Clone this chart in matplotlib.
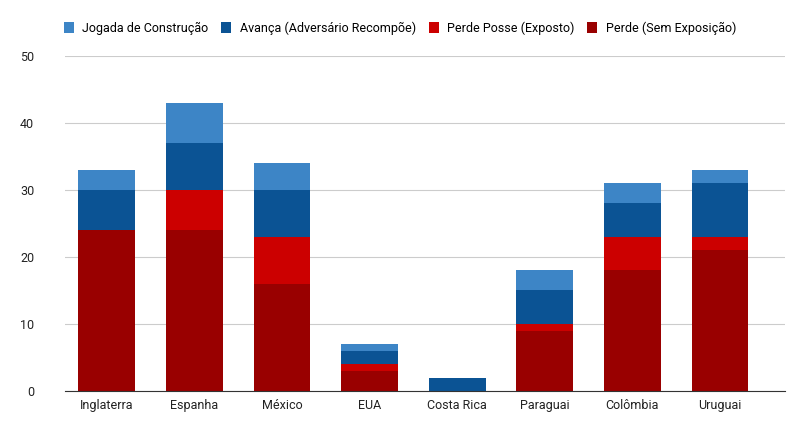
import matplotlib.pyplot as plt
import numpy as np

paises = ["Inglaterra", "Espanha", "México", "EUA", "Costa Rica", "Paraguai", "Colômbia", "Uruguai"]
perde_sem = [24, 24, 16, 3, 0, 9, 18, 21]
perde_exposto = [0, 6, 7, 1, 0, 1, 5, 2]
avanca = [6, 7, 7, 2, 2, 5, 5, 8]
construcao = [3, 6, 4, 1, 0, 3, 3, 2]

series = [
    ("Perde (Sem Exposição)", perde_sem, "#990000"),
    ("Perde Posse (Exposto)", perde_exposto, "#cc0000"),
    ("Avança (Adversário Recompõe)", avanca, "#0b5394"),
    ("Jogada de Construção", construcao, "#3d85c6"),
]

plt.rcParams['font.family'] = ['Roboto', 'DejaVu Sans']

fig = plt.figure(figsize=(8, 4.33), dpi=100)
ax = fig.add_axes([0.081, 0.097, 0.9, 0.774])

x = np.arange(len(paises))
bottom = np.zeros(len(paises))
handles = []
for nome, vals, cor in series:
    b = ax.bar(x, vals, 0.65, bottom=bottom, color=cor, label=nome, zorder=3)
    handles.append(b)
    bottom += np.array(vals)

ax.set_ylim(0, 50)
ax.set_xlim(-0.48, 7.74)
ax.set_yticks(range(0, 51, 10))
ax.set_xticks(x)
ax.set_xticklabels(paises)
ax.tick_params(axis='both', length=0, labelsize=9, colors='#222222')
ax.tick_params(axis='y', pad=22)
ax.tick_params(axis='x', pad=6)
ax.grid(axis='y', color='#cccccc', linewidth=0.8, zorder=0)
for s in ['top', 'right', 'left']:
    ax.spines[s].set_visible(False)
ax.spines['bottom'].set_color('#333333')
ax.spines['bottom'].set_zorder(4)

fig.legend(handles[::-1], [s[0] for s in series][::-1], loc='center', bbox_to_anchor=(0.5, 0.935),
           ncol=4, frameon=False, fontsize=9, handlelength=0.8, handleheight=0.9,
           handletextpad=0.7, columnspacing=1.0)

fig.savefig("out.png", dpi=100)
